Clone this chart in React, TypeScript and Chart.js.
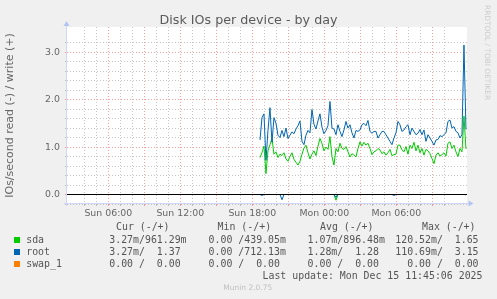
import React, { useEffect, useRef } from 'react';
import { Chart, registerables } from 'chart.js';

Chart.register(...registerables);

const TITLE = 'Disk IOs per device - by day';
const Y_TITLE = 'IOs/second read (-) / write (+)';
const LAST_UPDATE = 'Last update: Mon Dec 15 11:45:06 2025';
const FOOTER = 'Munin 2.0.75';
const SIDE_TEXT = 'RRDTOOL / TOBI OETIKER';

// hours since Sun 00:00
const START_HOUR = 18.64;
const STEP_HOURS = 1 / 6;
const X_MIN = 2.558;
const X_MAX = 35.892;
const Y_MIN = -0.2;
const Y_MAX = 3.53;

const X_TICK_HOURS = [6, 12, 18, 24, 30];
const X_TICK_LABELS = ['Sun 06:00', 'Sun 12:00', 'Sun 18:00', 'Mon 00:00', 'Mon 06:00'];
const Y_TICK_VALUES = [0, 1, 2, 3];
const Y_TICK_LABELS = ['0.0', '1.0', '2.0', '3.0'];

const SERIES_NAMES = ['sda', 'root', 'swap_1'];
const SERIES_COLORS = ['#00cc00', '#0066b3', '#ff8000'];
const LEGEND_HEADERS = ['Cur (-/+)', 'Min (-/+)', 'Avg (-/+)', 'Max (-/+)'];
const LEGEND_SDA = ['  3.27m/961.29m', '  0.00 /439.05m', '  1.07m/896.48m', '120.52m/  1.65'];
const LEGEND_ROOT = ['  3.27m/  1.37', '  0.00 /712.13m', '  1.28m/  1.28', '110.69m/  3.15'];
const LEGEND_SWAP = ['  0.00 /  0.00', '  0.00 /  0.00', '  0.00 /  0.00', '  0.00 /  0.00'];

// write (+) values, IOs/second
const SDA_WRITE = [
  0.78, 0.88, 1.02, 0.44, 0.92, 1.05, 1.18, 0.85, 0.90, 0.78, 0.85, 0.82,
  0.88, 0.75, 0.70, 0.80, 0.88, 0.74, 0.68, 0.62, 0.70, 0.85, 0.98, 1.04,
  0.88, 0.75, 0.85, 0.92, 0.82, 1.02, 1.18, 1.08, 0.92, 1.00, 0.95, 1.22,
  0.80, 0.62, 0.97, 0.90, 1.08, 0.97, 0.95, 1.01, 0.90, 0.79, 0.86, 0.83,
  0.79, 0.97, 1.11, 1.02, 1.10, 1.04, 1.08, 0.97, 0.84, 0.90, 0.92, 0.97,
  0.94, 0.86, 0.90, 0.83, 0.88, 0.95, 0.82, 0.84, 0.85, 1.04, 1.04, 0.94,
  0.90, 1.01, 0.85, 1.04, 0.97, 1.10, 0.92, 1.04, 0.88, 0.97, 0.83, 0.95,
  0.92, 0.86, 0.76, 0.65, 0.83, 0.88, 0.81, 0.84, 0.88, 0.81, 1.08, 1.11,
  0.97, 1.04, 0.90, 0.80, 0.97, 0.90, 1.65, 0.96,
];
const ROOT_WRITE = [
  1.15, 1.62, 1.70, 0.72, 1.35, 1.83, 1.10, 1.62, 1.50, 1.25, 1.20, 1.35,
  1.22, 1.40, 1.18, 1.25, 1.32, 1.28, 1.38, 1.45, 1.55, 1.12, 1.05, 1.25,
  1.35, 1.30, 1.79, 1.48, 1.38, 1.55, 1.70, 1.42, 1.28, 1.35, 1.45, 1.96,
  1.40, 1.38, 1.26, 1.47, 1.33, 1.22, 1.36, 1.54, 1.40, 1.47, 1.30, 1.19,
  1.35, 1.33, 1.36, 1.47, 1.50, 1.45, 1.56, 1.33, 1.29, 1.33, 1.33, 1.19,
  1.26, 1.33, 1.33, 1.26, 1.19, 1.12, 1.05, 1.19, 1.30, 1.54, 1.47, 1.33,
  1.36, 1.43, 1.47, 1.26, 1.40, 1.33, 1.26, 1.29, 1.37, 1.26, 1.36, 1.12,
  1.26, 1.19, 1.12, 1.04, 1.15, 1.16, 1.24, 1.22, 1.26, 1.30, 1.54, 1.57,
  1.40, 1.43, 1.33, 1.30, 1.19, 1.26, 3.15, 1.37,
];
// read (-) values, IOs/second (plotted below zero)
const SDA_READ = [
  0, 0, 0, 0, 0, 0, 0, 0, 0, 0, 0, 0,
  0, 0, 0, 0, 0, 0, 0, 0, 0, 0, 0, 0,
  0, 0, 0, 0, 0, 0, 0, 0, 0, 0, 0, 0,
  0, 0, 0.12, 0, 0, 0, 0, 0, 0, 0, 0, 0,
  0, 0, 0, 0, 0, 0, 0, 0, 0, 0, 0, 0,
  0, 0, 0, 0, 0, 0, 0, 0, 0, 0, 0, 0,
  0, 0, 0, 0, 0, 0, 0, 0, 0, 0, 0, 0,
  0, 0, 0, 0, 0, 0, 0, 0, 0, 0, 0, 0,
  0, 0, 0, 0, 0, 0, 0, 0.003,
];
const ROOT_READ = [
  0, 0.02, 0, 0, 0, 0, 0, 0, 0, 0, 0, 0.11,
  0, 0, 0, 0, 0, 0, 0, 0, 0, 0, 0, 0,
  0, 0, 0, 0, 0, 0, 0, 0, 0, 0, 0, 0,
  0, 0, 0.06, 0, 0, 0, 0, 0, 0, 0, 0, 0,
  0, 0, 0, 0, 0, 0, 0, 0, 0, 0, 0, 0,
  0, 0, 0, 0, 0, 0, 0, 0.02, 0, 0, 0, 0,
  0, 0, 0, 0, 0, 0, 0, 0, 0, 0, 0, 0,
  0, 0, 0, 0, 0, 0, 0, 0, 0, 0, 0, 0,
  0, 0, 0, 0, 0, 0, 0, 0.003,
];
const SWAP_WRITE = [
  0, 0, 0, 0, 0, 0, 0, 0, 0, 0, 0, 0,
  0, 0, 0, 0, 0, 0, 0, 0, 0, 0, 0, 0,
  0, 0, 0, 0, 0, 0, 0, 0, 0, 0, 0, 0,
  0, 0, 0, 0, 0, 0, 0, 0, 0, 0, 0, 0,
  0, 0, 0, 0, 0, 0, 0, 0, 0, 0, 0, 0,
  0, 0, 0, 0, 0, 0, 0, 0, 0, 0, 0, 0,
  0, 0, 0, 0, 0, 0, 0, 0, 0, 0, 0, 0,
  0, 0, 0, 0, 0, 0, 0, 0, 0, 0, 0, 0,
  0, 0, 0, 0, 0, 0, 0, 0,
];
const SWAP_READ = SWAP_WRITE;

const FONT_SANS = 'DejaVu Sans';
const FONT_MONO = 'DejaVu Sans Mono';
const TEXT_COLOR = '#666666';
const AXIS_COLOR = '#cfd6f8';
const ARROW_COLOR = '#b4c4f2';
const MAJOR_GRID = 'rgba(255,80,80,0.55)';
const MINOR_GRID = 'rgba(160,160,160,0.6)';

const near = (v: number, step: number) => Math.abs(v / step - Math.round(v / step)) < 1e-6;

function toPoints(values: number[], sign: number) {
  return values.map((v, i) => ({ x: START_HOUR + i * STEP_HOURS, y: sign * v }));
}

const muninPlugin = {
  id: 'muninDecor',
  beforeDraw(chart: any) {
    const { ctx, chartArea: a } = chart;
    ctx.save();
    ctx.fillStyle = '#f0f0f0';
    ctx.fillRect(0, 0, chart.width, chart.height);
    ctx.fillStyle = '#ffffff';
    ctx.fillRect(a.left, a.top, a.right - a.left, a.bottom - a.top);
    ctx.restore();
  },
  afterDraw(chart: any) {
    const { ctx, chartArea: a } = chart;
    ctx.save();
    ctx.strokeStyle = AXIS_COLOR;
    ctx.lineWidth = 1;
    ctx.beginPath();
    ctx.moveTo(a.left - 0.5, a.bottom + 2);
    ctx.lineTo(a.left - 0.5, a.top - 3);
    ctx.moveTo(a.left - 3, a.bottom - 0.5);
    ctx.lineTo(a.right + 2, a.bottom - 0.5);
    ctx.stroke();
    ctx.fillStyle = ARROW_COLOR;
    ctx.beginPath();
    ctx.moveTo(a.left - 3.5, a.top - 1);
    ctx.lineTo(a.left + 2.5, a.top - 1);
    ctx.lineTo(a.left - 0.5, a.top - 6);
    ctx.closePath();
    ctx.fill();
    ctx.beginPath();
    ctx.moveTo(a.right + 1.5, a.bottom - 3.5);
    ctx.lineTo(a.right + 1.5, a.bottom + 2.5);
    ctx.lineTo(a.right + 6.5, a.bottom - 0.5);
    ctx.closePath();
    ctx.fill();
    ctx.restore();
  },
};

function lineDs(label: string, data: any[], color: string, order: number) {
  return {
    label,
    data,
    borderColor: color,
    backgroundColor: color,
    borderWidth: 1,
    pointRadius: 0,
    tension: 0,
    fill: false,
    order,
  };
}

export default function App() {
  const ref = useRef<HTMLCanvasElement>(null);

  useEffect(() => {
    const canvas = ref.current;
    if (!canvas) return;
    const xGrid = (ctx: any) => {
      const v = ctx.tick ? ctx.tick.value : 0;
      if (!near(v, 1)) return 'rgba(0,0,0,0)';
      return near(v, 3) ? MAJOR_GRID : MINOR_GRID;
    };
    const yGrid = (ctx: any) => {
      const v = ctx.tick ? ctx.tick.value : 0;
      if (!near(v, 0.2)) return 'rgba(0,0,0,0)';
      return near(v, 1) ? MAJOR_GRID : MINOR_GRID;
    };
    const chart = new Chart(canvas, {
      type: 'line',
      data: {
        datasets: [
          lineDs('zero', [{ x: X_MIN, y: 0 }, { x: X_MAX, y: 0 }], '#000000', 0),
          lineDs(SERIES_NAMES[1] + ' write', toPoints(ROOT_WRITE, 1), SERIES_COLORS[1], 1),
          lineDs(SERIES_NAMES[1] + ' read', toPoints(ROOT_READ, -1), SERIES_COLORS[1], 2),
          lineDs(SERIES_NAMES[0] + ' write', toPoints(SDA_WRITE, 1), SERIES_COLORS[0], 3),
          lineDs(SERIES_NAMES[0] + ' read', toPoints(SDA_READ, -1), SERIES_COLORS[0], 4),
          lineDs(SERIES_NAMES[2] + ' write', toPoints(SWAP_WRITE, 1), SERIES_COLORS[2], 5),
          lineDs(SERIES_NAMES[2] + ' read', toPoints(SWAP_READ, -1), SERIES_COLORS[2], 6),
        ] as any,
      },
      options: {
        responsive: false,
        animation: false,
        events: [],
        layout: { padding: { top: 27, right: 30, left: 0, bottom: 0 } },
        plugins: {
          legend: { display: false },
          tooltip: { enabled: false },
          title: { display: false },
        },
        scales: {
          x: {
            type: 'linear',
            min: X_MIN,
            max: X_MAX,
            afterFit: (s: any) => {
              s.height = 95;
            },
            ticks: {
              stepSize: 1,
              autoSkip: false,
              maxRotation: 0,
              padding: 1.5,
              color: TEXT_COLOR,
              font: { family: FONT_SANS, size: 9.4 },
              callback: (v: any) => {
                const i = X_TICK_HOURS.findIndex((h) => Math.abs(h - Number(v)) < 1e-6);
                return i >= 0 ? X_TICK_LABELS[i] : '';
              },
            },
            grid: { color: xGrid, tickColor: xGrid, tickLength: 2, lineWidth: 1 },
            border: { display: false, dash: [1, 2] },
          },
          y: {
            type: 'linear',
            min: Y_MIN,
            max: Y_MAX,
            afterFit: (s: any) => {
              s.width = 67;
            },
            ticks: {
              stepSize: 0.2,
              autoSkip: false,
              padding: 5,
              color: TEXT_COLOR,
              font: { family: FONT_SANS, size: 9.4 },
              callback: (v: any) => {
                const i = Y_TICK_VALUES.findIndex((t) => Math.abs(t - Number(v)) < 1e-6);
                return i >= 0 ? Y_TICK_LABELS[i] : '';
              },
            },
            title: {
              display: true,
              text: Y_TITLE,
              color: TEXT_COLOR,
              font: { family: FONT_SANS, size: 11 },
              padding: { top: 3.4, bottom: 0 },
            },
            grid: { color: yGrid, tickColor: yGrid, tickLength: 2, lineWidth: 1 },
            border: { display: false, dash: [1, 2] },
          },
        },
      } as any,
      plugins: [muninPlugin],
    });
    return () => chart.destroy();
  }, []);

  const mono: React.CSSProperties = {
    position: 'absolute',
    fontFamily: FONT_MONO,
    fontSize: '9.9px',
    lineHeight: '12px',
    color: '#555555',
    whiteSpace: 'pre',
  };
  const colX = [97.4, 196.7, 295.7, 395.3];
  const headX = [116, 217.6, 320, 422];
  const rows = [LEGEND_SDA, LEGEND_ROOT, LEGEND_SWAP];
  const rowTops = [234, 245.7, 257.7];

  return (
    <div
      style={{
        position: 'fixed',
        left: 0,
        top: 0,
        width: 497,
        height: 299,
        background: '#f0f0f0',
        overflow: 'hidden',
      }}
    >
      <canvas
        ref={ref}
        width={497}
        height={299}
        style={{ position: 'absolute', left: 0, top: 0, width: 497, height: 299 }}
      />
      <div
        style={{
          position: 'absolute',
          left: 0,
          top: 12,
          width: 497,
          textAlign: 'center',
          fontFamily: FONT_SANS,
          fontSize: '12.7px',
          lineHeight: '15px',
          color: '#5a5a5a',
          whiteSpace: 'pre',
        }}
      >
        {TITLE}
      </div>
      <div
        style={{
          position: 'absolute',
          left: 483,
          top: 5,
          writingMode: 'vertical-rl',
          fontFamily: FONT_SANS,
          fontSize: '7.4px',
          lineHeight: '8px',
          color: '#cccccc',
          whiteSpace: 'pre',
        }}
      >
        {SIDE_TEXT}
      </div>
      {LEGEND_HEADERS.map((h, i) => (
        <div key={'h' + i} style={{ ...mono, left: headX[i], top: 221 }}>
          {h}
        </div>
      ))}
      {rows.map((cells, r) => (
        <React.Fragment key={'r' + r}>
          <div
            style={{
              position: 'absolute',
              left: 14,
              top: rowTops[r] + 3,
              width: 6,
              height: 6,
              background: SERIES_COLORS[r],
            }}
          />
          <div style={{ ...mono, left: 26.2, top: rowTops[r] }}>{SERIES_NAMES[r]}</div>
          {cells.map((c, i) => (
            <div key={i} style={{ ...mono, left: colX[i], top: rowTops[r] }}>
              {c}
            </div>
          ))}
        </React.Fragment>
      ))}
      <div style={{ ...mono, right: 14.5, top: 269.7 }}>{LAST_UPDATE}</div>
      <div
        style={{
          position: 'absolute',
          left: 0,
          width: 495.5,
          top: 282.7,
          textAlign: 'center',
          fontFamily: FONT_SANS,
          fontSize: '7.5px',
          lineHeight: '10px',
          color: '#c0c0c0',
          whiteSpace: 'pre',
        }}
      >
        {FOOTER}
      </div>
    </div>
  );
}
